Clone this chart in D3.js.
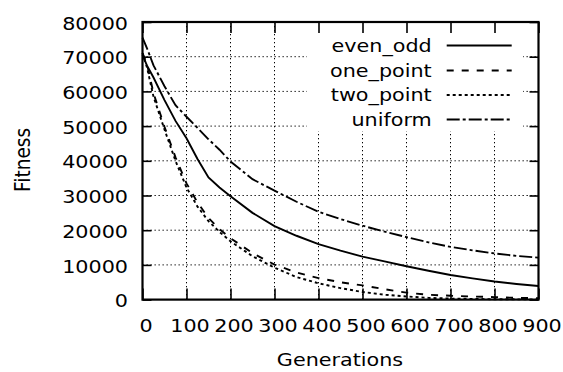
<!DOCTYPE html>
<html><head><meta charset="utf-8">
<script src="https://cdn.jsdelivr.net/npm/d3@7"></script>
<style>html,body{margin:0;padding:0;background:#fff;}svg{display:block;}text{font-family:"DejaVu Sans",sans-serif;fill:#000;}</style>
</head><body>
<svg id="c" width="563" height="372"></svg>
<script>
const generations = [0,10,25,50,75,100,125,150,175,200,250,300,350,400,450,500,550,600,650,700,750,800,850,900];
const evenOdd  = [70500,67500,64000,57500,51500,46500,40500,35200,32300,29800,25000,21200,18400,16000,14100,12400,11000,9600,8300,7100,6100,5200,4500,3900];
const onePoint = [71000,68000,59500,49800,41000,33500,28000,23500,20300,17700,13400,10100,7800,6200,5000,4100,3000,2000,1400,1100,900,700,500,400];
const twoPoint = [71000,67000,58500,49000,40000,32300,26800,22600,19500,16800,12500,9200,6500,4700,3300,2200,1400,900,500,300,200,100,80,50];
const uniform  = [75500,72500,67500,61500,56000,52700,49500,46200,43200,39800,34700,31400,28200,25300,23200,21300,19600,18000,16500,15200,14200,13300,12600,12100];
const seriesNames = ["even_odd","one_point","two_point","uniform"];
const seriesData = [evenOdd, onePoint, twoPoint, uniform];
const dashes = [null, "7,8", "3,3", "13,3,3,3"];
const xTicks = [0,100,200,300,400,500,600,700,800,900];
const yTicks = [0,10000,20000,30000,40000,50000,60000,70000,80000];

const L=142.5, R=538.5, T=22, B=299.6;
const FS=18.5, SX=1.12;
const svg=d3.select("#c");
const x=d3.scaleLinear().domain([0,900]).range([L,R]);
const y=d3.scaleLinear().domain([0,80000]).range([B,T]);

// grid
const grid=svg.append("g").attr("stroke","#000").attr("stroke-width",1).attr("stroke-dasharray","1.3,2.7");
grid.selectAll(".gy").data(yTicks.slice(1,-1)).join("line")
  .attr("x1",L).attr("x2",R).attr("y1",d=>y(d)).attr("y2",d=>y(d));
grid.selectAll(".gx").data(xTicks.slice(1,-1)).join("line")
  .attr("x1",d=>x(d)).attr("x2",d=>x(d)).attr("y1",T).attr("y2",B);
// key background mask
svg.append("rect").attr("x",307).attr("y",T+1).attr("width",216).attr("height",108).attr("fill","#fff");

// axes ticks (inward, mirrored)
function tickAxis(axis, tr){
  const g=svg.append("g").attr("transform",tr).call(axis);
  g.select(".domain").remove();
  g.selectAll("text").remove();
  g.selectAll("line").attr("stroke","#000").attr("stroke-width",1.6);
}
tickAxis(d3.axisBottom(x).tickValues(xTicks).tickSize(-11),`translate(0,${B})`);
tickAxis(d3.axisTop(x).tickValues(xTicks).tickSize(-11),`translate(0,${T})`);
tickAxis(d3.axisLeft(y).tickValues(yTicks).tickSize(-9),`translate(${L},0)`);
tickAxis(d3.axisRight(y).tickValues(yTicks).tickSize(-9),`translate(${R},0)`);

// curves
const line=d3.line().x((d,i)=>x(generations[i])).y(d=>y(d));
seriesData.forEach((s,k)=>{
  const p=svg.append("path").attr("d",line(s)).attr("fill","none").attr("stroke","#000").attr("stroke-width",1.9);
  if(dashes[k]) p.attr("stroke-dasharray",dashes[k]);
});

// border
svg.append("rect").attr("x",L).attr("y",T).attr("width",R-L).attr("height",B-T)
  .attr("fill","none").attr("stroke","#000").attr("stroke-width",2.2);

function label(px,py,txt,anchor,rot){
  svg.append("text").attr("transform",rot?`translate(${px},${py}) rotate(-90) scale(1,${SX})`:`translate(${px},${py}) scale(${SX},1)`)
    .attr("text-anchor",anchor).attr("dominant-baseline","central").attr("font-size",FS).text(txt);
}
yTicks.forEach(v=>label(128, y(v)+1.5, String(v), "end"));
xTicks.forEach(v=>label(x(v)+3.5, 325.5, String(v), "middle"));
label(340, 360, "Generations", "middle");
label(23, 160, "Fitness", "middle", true);

// legend
const rows=[45.5,70.5,95,119.5];
seriesNames.forEach((n,k)=>{
  label(431.7, rows[k], n, "end");
  const l=svg.append("line").attr("x1",446.7).attr("x2",511.7).attr("y1",rows[k]).attr("y2",rows[k])
    .attr("stroke","#000").attr("stroke-width",1.9);
  if(dashes[k]) l.attr("stroke-dasharray",dashes[k]);
});
</script>
</body></html>
